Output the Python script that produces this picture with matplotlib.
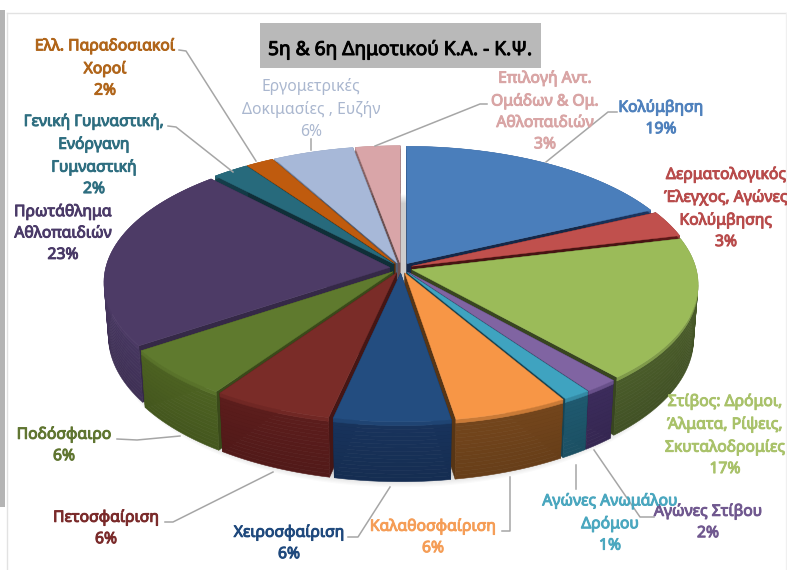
import numpy as np
import matplotlib

matplotlib.use('Agg')
import matplotlib.pyplot as plt
import matplotlib.patheffects as pe
from matplotlib.colors import to_rgb
from matplotlib.patches import Rectangle

plt.rcParams['font.family'] = ['Noto Sans', 'DejaVu Sans']

# --- data, clockwise from 12 o'clock ---
labels = [
    'Κολύμβηση', 'Δερματολογικός\nΈλεγχος, Αγώνες\nΚολύμβησης',
    'Στίβος: Δρόμοι,\nΆλματα, Ρίψεις,\nΣκυταλοδρομίες', 'Αγώνες Στίβου',
    'Αγώνες Ανωμάλου\nΔρόμου', 'Καλαθοσφαίριση', 'Χειροσφαίριση',
    'Πετοσφαίριση', 'Ποδόσφαιρο', 'Πρωτάθλημα\nΑθλοπαιδιών',
    'Γενική Γυμναστική,\nΕνόργανη\nΓυμναστική', 'Ελλ. Παραδοσιακοί\nΧοροί',
    'Εργομετρικές\nΔοκιμασίες , Ευζήν', 'Επιλογή Αντ.\nΟμάδων & Ομ.\nΑθλοπαιδιών',
]
percents = [19, 3, 17, 2, 1, 6, 6, 6, 6, 23, 2, 2, 6, 3]
# slice sizes as drawn (the printed labels are rounded)
shares = [17.9, 3.2, 17.4, 1.7, 1.4, 5.8, 5.9, 6.1, 6.0, 22.5, 2.3, 1.75, 5.1, 2.8]
title = '5η & 6η Δημοτικού Κ.Α. - Κ.Ψ.'

# --- styles ---
top_colors = ['#4a7ebb', '#c0504d', '#9bbb59', '#8064a2', '#3fa3c0', '#f79646', '#234d80',
              '#7a2c28', '#5f7a2e', '#4d3b66', '#276a7c', '#bf5b0e', '#a7b8d8', '#d9a5a8']
side_colors = ['#1c3560', '#5e1a19', '#4a5c2a', '#3c2c5c', '#1f5a70', '#74461c', '#18335c',
               '#5c1d1c', '#4d6222', '#46365f', '#153e4b', '#7a3a00', '#6f7f9c', '#8f6a6c']
text_colors = ['#4f81bd', '#b84b4b', '#a9c26a', '#70588f', '#4aa7bf', '#f59d56', '#1f497d',
               '#7a2a2a', '#5f7530', '#4a3a68', '#2e6e80', '#b0651a', '#aab7cf', '#d9a5a5']
label_pos = [(661, 118), (726, 208), (725, 435), (708, 522), (610, 523), (433, 537), (289, 543),
             (106, 528), (64, 445), (63, 233), (94, 155), (105, 68), (311, 109), (545, 111)]
leaders = [
    [(617, 112), (608, 112), (546, 162)],
    [],
    [],
    [(654, 517), (640, 517), (594, 450)],
    [(576, 489), (576, 465)],
    [(502, 531), (510, 531), (510, 477)],
    [(348, 537), (358, 537), (390, 487)],
    [(165, 522), (173, 522), (273, 472)],
    [(117, 439), (137, 440), (180, 436)],
    [],
    [(168, 126), (176, 127), (233, 172)],
    [(179, 50), (186, 51), (256, 161)],
    [(311, 150), (311, 139)],
    [(487, 104), (480, 104), (375, 146)],
]

CX, CY = 401, 268
RX, RY = 284, 131
PERSP = 0.11
DEPTH = 53
EXPLODE = 0.04


def project(u, v, z=0.0):
    """Ground coords (unit circle) to pixels, z=1 is the bottom of the disc."""
    w = 1 + PERSP * v
    return CX + RX * u / w * (1 - 0.015 * z), CY - RY * v / w + DEPTH * z / w


def mix(c1, c2, t):
    a, b = np.array(to_rgb(c1)), np.array(to_rgb(c2))
    return tuple(a + (b - a) * t)


def draw_wedge(ax, a0, a1, top, side, zo):
    mid = (a0 + a1) / 2
    ox, oy = EXPLODE * np.cos(mid), EXPLODE * np.sin(mid)
    t = np.linspace(a0, a1, max(8, int(abs(a1 - a0) * 40)))
    u, v = ox + np.cos(t), oy + np.sin(t)

    # radial faces
    dark = mix(side, '#000000', 0.25)
    for end in (0, -1):
        xa, ya = project(np.array([ox, u[end]]), np.array([oy, v[end]]))
        xb, yb = project(np.array([u[end], ox]), np.array([v[end], oy]), 1)
        ax.fill(np.r_[xa, xb], np.r_[ya, yb], color=dark, lw=0.3, zorder=zo)

    # outer wall, painted bottom band last-to-first so the bands overlap without seams
    bands = np.linspace(0, 1, 17)
    for z0, z1 in zip(bands[:-1][::-1], bands[1:][::-1]):
        x0, y0 = project(u, v, z0)
        x1, y1 = project(u[::-1], v[::-1], z1)
        if z0 == 0:
            col = mix(top, side, 0.35)
        else:
            col = mix(side, '#000000', 0.12 * z0)
        ax.fill(np.r_[x0, x1], np.r_[y0, y1], color=col, lw=0.4, zorder=zo)

    # top face
    x, y = project(np.r_[ox, u], np.r_[oy, v])
    ax.fill(x, y, color=top, lw=0.3, zorder=zo)


fig = plt.figure(figsize=(7.87, 5.70), dpi=100)
ax = fig.add_axes([0, 0, 1, 1])
ax.set_xlim(0, 787)
ax.set_ylim(570, 0)
ax.axis('off')

# page furniture around the pasted chart
ax.add_patch(Rectangle((0, 10), 5, 497, color='#b4b4b4', lw=0))
ax.plot([7, 7], [13, 570], color='#e2e2e2', lw=1)
ax.plot([7, 787], [13, 13], color='#e2e2e2', lw=1)
ax.plot([786, 786], [13, 570], color='#f0f0f0', lw=1)

# soft shadow under the disc
tt = np.linspace(0, 2 * np.pi, 200)
for i in range(10):
    sx, sy = project(1.02 * np.cos(tt), 1.02 * np.sin(tt) + 0.01, 1 + i * 0.02)
    ax.fill(sx, sy, color='black', alpha=0.018, lw=0, zorder=1)

# wedges, back to front
total = sum(shares)
edges = np.pi / 2 - 2 * np.pi * np.r_[0, np.cumsum(shares)] / total
order = sorted(range(len(shares)), key=lambda i: -np.sin((edges[i] + edges[i + 1]) / 2))
for n, i in enumerate(order):
    draw_wedge(ax, edges[i + 1], edges[i], top_colors[i], side_colors[i], 2 + n * 0.01)

# leader lines
for pts in leaders:
    if pts:
        ax.plot([p[0] for p in pts], [p[1] for p in pts], color='#a6a6a6', lw=1.1, zorder=3)

# labels; the installed Noto Sans has no bold face here, so thicken with a thin stroke
for i, name in enumerate(labels):
    txt = ax.text(label_pos[i][0], label_pos[i][1], '{}\n{}%'.format(name, percents[i]),
                  color=text_colors[i], fontsize=11.3, ha='center', va='center',
                  linespacing=1.45, zorder=4)
    if i != 12:
        txt.set_path_effects([pe.withStroke(linewidth=0.7, foreground=text_colors[i])])

# title box
ax.add_patch(Rectangle((260, 23), 281, 45, color='#b9b9b9', lw=0, zorder=3))
ttl = ax.text(400, 50, title, fontsize=13.8, color='black', ha='center', va='center', zorder=4)
ttl.set_path_effects([pe.withStroke(linewidth=0.7, foreground='black')])

fig.savefig('out.png', dpi=100)
